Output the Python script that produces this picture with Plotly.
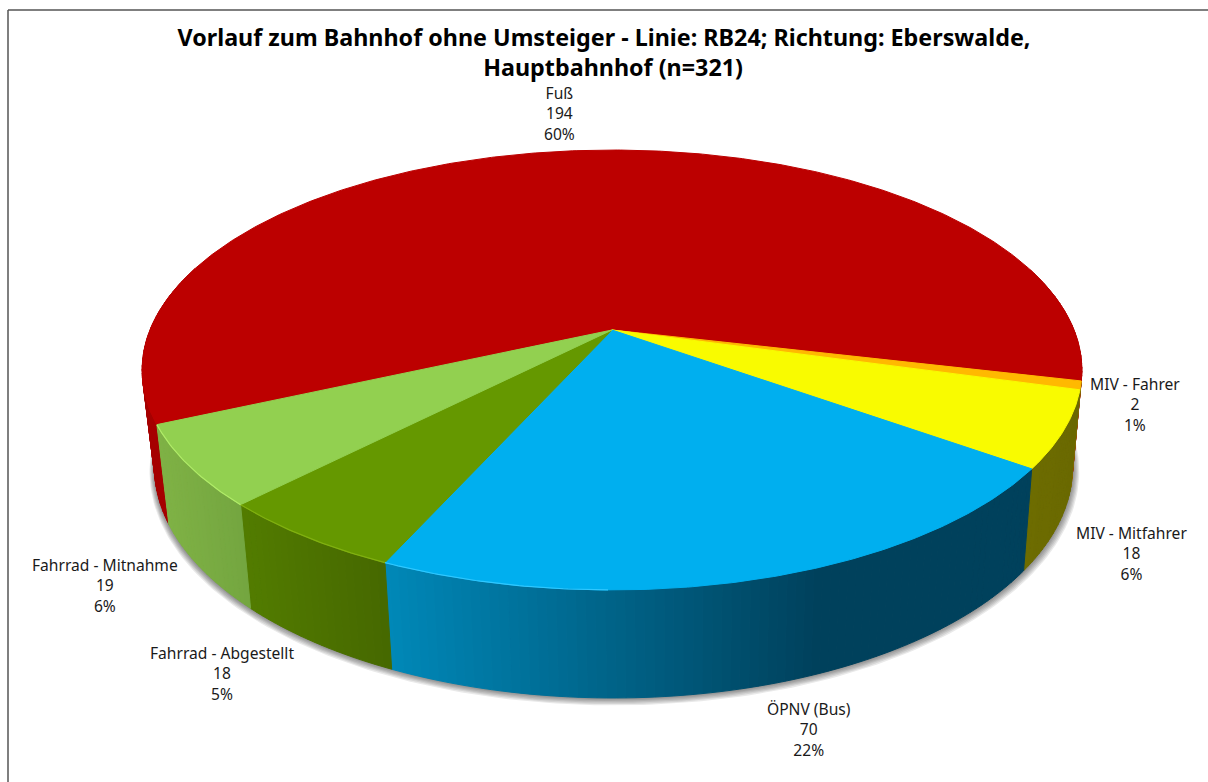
import numpy as np
import plotly.graph_objects as go

# ---- data ----
categories = ["Fuß", "MIV - Fahrer", "MIV - Mitfahrer", "ÖPNV (Bus)", "Fahrrad - Abgestellt", "Fahrrad - Mitnahme"]
counts = [194, 2, 18, 70, 18, 19]
percent_labels = ["60%", "1%", "6%", "22%", "5%", "6%"]
title_text = "Vorlauf zum Bahnhof ohne Umsteiger - Linie: RB24; Richtung: Eberswalde,<br>&nbsp;&nbsp;&nbsp;Hauptbahnhof (n=321)"

# ---- styles ----
top_colors = ["#BC0000", "#FFB900", "#F9FB00", "#00AFEF", "#659800", "#92D050"]
edge_colors = ["#BC0000", "#FFB900", "#F9FB00", "#30C8FF", "#80B010", "#B0EC68"]
side_left = ["#A60000", "#8A6A00", "#6D6C00", "#0088B8", "#527C00", "#7FB245"]
side_right = ["#A60000", "#8A6A00", "#6A6900", "#00415C", "#466800", "#74A640"]
side_knee = [1, 1, 1, 0.67, 1, 1]
label_xy = [(559, 113), (1135, 404.5), (1131.5, 553.5), (809, 729.5), (221.5, 673.5), (104.5, 585.5)]

# ---- projection of the pie onto the page ----
CX, CY = 612, 330
A, B, K = 462, 212.7, 0.1818
START = 155.7            # clockwise from 3 o'clock, where the first slice begins
BX, BY, BOFF, BXOFF = 0.977, 1.05, 95, 1.5


def project(deg, bottom=False):
    t = np.radians(deg)
    u, v = np.cos(t), np.sin(t)
    w = 1 - K * v
    dx, dy = A * u / w, B * v / w
    if bottom:
        return CX + BXOFF + BX * dx, CY + BOFF + BY * dy
    return CX + dx, CY + dy


def hex2rgb(h):
    return np.array([int(h[i:i + 2], 16) for i in (1, 3, 5)], float)


def mix(c0, c1, t):
    c = hex2rgb(c0) * (1 - t) + hex2rgb(c1) * t
    return "rgb(%d,%d,%d)" % tuple(c.round())


angles = START + np.concatenate([[0], np.cumsum(counts)]) * 360 / sum(counts)
fig = go.Figure()


def poly(x, y, color, line=None, lw=1):
    fig.add_trace(go.Scatter(
        x=list(x), y=list(y), mode="lines", fill="toself", fillcolor=color,
        line=dict(color=line or color, width=lw), hoverinfo="skip", showlegend=False))


# soft shadow below the body
ring = np.linspace(0, 360, 361)
bx, by = project(ring, bottom=True)
ecx, ecy = bx.mean(), by.mean()
for off in [6, 5, 4, 3, 2, 1]:
    f = 1 + off / 470
    poly(ecx + (bx - ecx) * f + off * 0.15, ecy + (by - ecy) * f + off * 0.7,
         "rgba(0,0,0,0.085)", line="rgba(0,0,0,0)", lw=0)

# side wall, back to front; the top surface hides what is out of sight
for i in range(len(counts)):
    a0, a1 = angles[i], angles[i + 1]
    grid = np.arange(a0, a1, 1.0)
    grid = np.append(grid, a1)
    xs_slice = project(grid)[0]
    xl, xr = xs_slice.min(), xs_slice.max()
    for g0, g1 in zip(grid[:-1], grid[1:]):
        if np.sin(np.radians((g0 + g1) / 2)) < -0.3:
            continue
        tx0, ty0 = project(g0)
        tx1, ty1 = project(g1)
        bx0, by0 = project(g0, True)
        bx1, by1 = project(g1, True)
        t = ((tx0 + tx1) / 2 - xl) / max(xr - xl, 1)
        t = min(t / side_knee[i], 1)
        poly([tx0, tx1, bx1, bx0, tx0], [ty0, ty1, by1, by0, ty0],
             mix(side_left[i], side_right[i], t))

# top surface
for i in range(len(counts)):
    grid = np.linspace(angles[i], angles[i + 1], max(int(angles[i + 1] - angles[i]) * 2, 6))
    ax, ay = project(grid)
    poly(np.r_[CX, ax, CX], np.r_[CY, ay, CY], top_colors[i])

# light bevel on the front-left rim only
for i in range(len(counts)):
    grid = np.linspace(angles[i], angles[i + 1], max(int(angles[i + 1] - angles[i]) * 2, 6))
    keep = (np.sin(np.radians(grid)) > 0.2) & (np.cos(np.radians(grid)) < 0)
    grid = grid[keep]
    if len(grid) < 2:
        continue
    ax, ay = project(grid)
    fig.add_trace(go.Scatter(x=ax, y=ay, mode="lines", line=dict(color=edge_colors[i], width=1.2),
                             hoverinfo="skip", showlegend=False))

# data labels
for name, n, pct, (lx, ly) in zip(categories, counts, percent_labels, label_xy):
    fig.add_annotation(x=lx, y=ly, xref="x", yref="y", text=f"{name}<br>{n}<br>{pct}", showarrow=False,
                       font=dict(family="Noto Sans", size=15.6, color="#1a1a1a"), align="center")

fig.update_layout(
    width=1208, height=782, margin=dict(l=0, r=0, t=0, b=0),
    paper_bgcolor="white", plot_bgcolor="white", showlegend=False,
    title=dict(text=title_text, x=604 / 1208, xanchor="center", y=1 - 46 / 782, yanchor="top",
               font=dict(family="Noto Sans", size=23.3, color="#000000", weight="bold")),
    xaxis=dict(range=[0, 1208], visible=False, fixedrange=True),
    yaxis=dict(range=[782, 0], visible=False, fixedrange=True),
    shapes=[
        dict(type="line", xref="x", yref="y", x0=8, y0=10, x1=1208, y1=10, line=dict(color="#555555", width=1.5)),
        dict(type="line", xref="x", yref="y", x0=8, y0=10, x1=8, y1=782, line=dict(color="#555555", width=1.5)),
    ],
)
fig.write_html("out.html", config=dict(displayModeBar=False),
               post_script="document.body.style.margin='0';document.body.style.overflow='hidden';")
